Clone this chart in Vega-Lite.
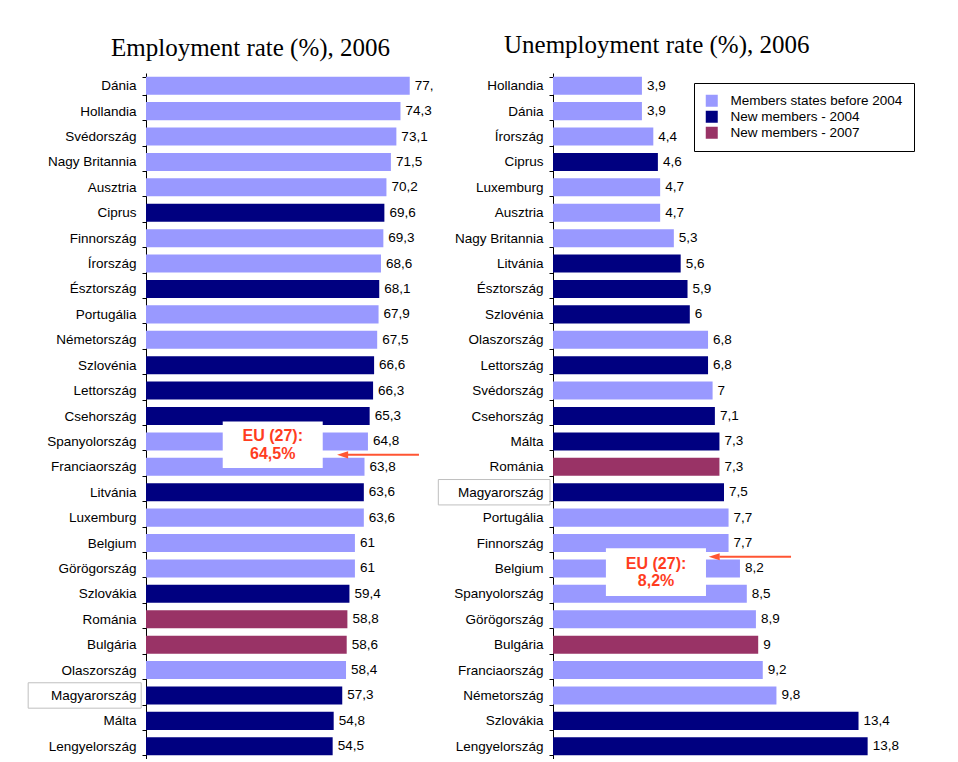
{
  "$schema": "https://vega.github.io/schema/vega-lite/v6.json",
  "background": "white",
  "padding": {"left": 27, "top": 33, "right": 0, "bottom": 0},
  "config": {"view": {"stroke": null}, "font": "Liberation Sans"},
  "spacing": 3,
  "resolve": {"scale": {"color": "independent", "x": "independent", "y": "independent"}, "legend": {"color": "independent"}},
  "datasets": {
    "emp": [
      {"country": "Dánia", "v": 77, "lab": "77,", "grp": "Members states before 2004"},
      {"country": "Hollandia", "v": 74.3, "lab": "74,3", "grp": "Members states before 2004"},
      {"country": "Svédország", "v": 73.1, "lab": "73,1", "grp": "Members states before 2004"},
      {"country": "Nagy Britannia", "v": 71.5, "lab": "71,5", "grp": "Members states before 2004"},
      {"country": "Ausztria", "v": 70.2, "lab": "70,2", "grp": "Members states before 2004"},
      {"country": "Ciprus", "v": 69.6, "lab": "69,6", "grp": "New members - 2004"},
      {"country": "Finnország", "v": 69.3, "lab": "69,3", "grp": "Members states before 2004"},
      {"country": "Írország", "v": 68.6, "lab": "68,6", "grp": "Members states before 2004"},
      {"country": "Észtország", "v": 68.1, "lab": "68,1", "grp": "New members - 2004"},
      {"country": "Portugália", "v": 67.9, "lab": "67,9", "grp": "Members states before 2004"},
      {"country": "Németország", "v": 67.5, "lab": "67,5", "grp": "Members states before 2004"},
      {"country": "Szlovénia", "v": 66.6, "lab": "66,6", "grp": "New members - 2004"},
      {"country": "Lettország", "v": 66.3, "lab": "66,3", "grp": "New members - 2004"},
      {"country": "Csehország", "v": 65.3, "lab": "65,3", "grp": "New members - 2004"},
      {"country": "Spanyolország", "v": 64.8, "lab": "64,8", "grp": "Members states before 2004"},
      {"country": "Franciaország", "v": 63.8, "lab": "63,8", "grp": "Members states before 2004"},
      {"country": "Litvánia", "v": 63.6, "lab": "63,6", "grp": "New members - 2004"},
      {"country": "Luxemburg", "v": 63.6, "lab": "63,6", "grp": "Members states before 2004"},
      {"country": "Belgium", "v": 61, "lab": "61", "grp": "Members states before 2004"},
      {"country": "Görögország", "v": 61, "lab": "61", "grp": "Members states before 2004"},
      {"country": "Szlovákia", "v": 59.4, "lab": "59,4", "grp": "New members - 2004"},
      {"country": "Románia", "v": 58.8, "lab": "58,8", "grp": "New members - 2007"},
      {"country": "Bulgária", "v": 58.6, "lab": "58,6", "grp": "New members - 2007"},
      {"country": "Olaszország", "v": 58.4, "lab": "58,4", "grp": "Members states before 2004"},
      {"country": "Magyarország", "v": 57.3, "lab": "57,3", "grp": "New members - 2004"},
      {"country": "Málta", "v": 54.8, "lab": "54,8", "grp": "New members - 2004"},
      {"country": "Lengyelország", "v": 54.5, "lab": "54,5", "grp": "New members - 2004"}
    ],
    "unemp": [
      {"country": "Hollandia", "v": 3.9, "lab": "3,9", "grp": "Members states before 2004"},
      {"country": "Dánia", "v": 3.9, "lab": "3,9", "grp": "Members states before 2004"},
      {"country": "Írország", "v": 4.4, "lab": "4,4", "grp": "Members states before 2004"},
      {"country": "Ciprus", "v": 4.6, "lab": "4,6", "grp": "New members - 2004"},
      {"country": "Luxemburg", "v": 4.7, "lab": "4,7", "grp": "Members states before 2004"},
      {"country": "Ausztria", "v": 4.7, "lab": "4,7", "grp": "Members states before 2004"},
      {"country": "Nagy Britannia", "v": 5.3, "lab": "5,3", "grp": "Members states before 2004"},
      {"country": "Litvánia", "v": 5.6, "lab": "5,6", "grp": "New members - 2004"},
      {"country": "Észtország", "v": 5.9, "lab": "5,9", "grp": "New members - 2004"},
      {"country": "Szlovénia", "v": 6, "lab": "6", "grp": "New members - 2004"},
      {"country": "Olaszország", "v": 6.8, "lab": "6,8", "grp": "Members states before 2004"},
      {"country": "Lettország", "v": 6.8, "lab": "6,8", "grp": "New members - 2004"},
      {"country": "Svédország", "v": 7, "lab": "7", "grp": "Members states before 2004"},
      {"country": "Csehország", "v": 7.1, "lab": "7,1", "grp": "New members - 2004"},
      {"country": "Málta", "v": 7.3, "lab": "7,3", "grp": "New members - 2004"},
      {"country": "Románia", "v": 7.3, "lab": "7,3", "grp": "New members - 2007"},
      {"country": "Magyarország", "v": 7.5, "lab": "7,5", "grp": "New members - 2004"},
      {"country": "Portugália", "v": 7.7, "lab": "7,7", "grp": "Members states before 2004"},
      {"country": "Finnország", "v": 7.7, "lab": "7,7", "grp": "Members states before 2004"},
      {"country": "Belgium", "v": 8.2, "lab": "8,2", "grp": "Members states before 2004"},
      {"country": "Spanyolország", "v": 8.5, "lab": "8,5", "grp": "Members states before 2004"},
      {"country": "Görögország", "v": 8.9, "lab": "8,9", "grp": "Members states before 2004"},
      {"country": "Bulgária", "v": 9, "lab": "9", "grp": "New members - 2007"},
      {"country": "Franciaország", "v": 9.2, "lab": "9,2", "grp": "Members states before 2004"},
      {"country": "Németország", "v": 9.8, "lab": "9,8", "grp": "Members states before 2004"},
      {"country": "Szlovákia", "v": 13.4, "lab": "13,4", "grp": "New members - 2004"},
      {"country": "Lengyelország", "v": 13.8, "lab": "13,8", "grp": "New members - 2004"}
    ]
  },
  "hconcat": [
    {
      "width": 274,
      "height": 686,
      "title": {"text": "Employment rate (%), 2006", "font": "Liberation Serif", "fontSize": 25, "fontWeight": "normal", "color": "black", "anchor": "start", "frame": "group", "dx": -35, "baseline": "bottom", "offset": -20},
      "resolve": {"scale": {"y": "independent"}},
      "layer": [
        {
          "data": {"name": "emp"},
          "layer": [
            {
              "mark": {"type": "bar"},
              "encoding": {
                "y": {"field": "country", "type": "nominal", "sort": null,
                      "scale": {"paddingInner": 0.29, "paddingOuter": 0.145},
                      "axis": {"title": null, "domainColor": "black", "domainWidth": 1, "tickBand": "extent", "tickColor": "black", "tickSize": 4, "labelFont": "Liberation Sans", "labelFontSize": 13.5, "labelColor": "black", "labelPadding": 6, "grid": false}},
                "x": {"field": "v", "type": "quantitative", "scale": {"domain": [0, 80], "nice": false}, "axis": null},
                "color": {"field": "grp", "type": "nominal", "scale": {"domain": ["Members states before 2004", "New members - 2004", "New members - 2007"], "range": ["#9999FF", "#000080", "#993366"]}, "legend": null}
              }
            },
            {
              "mark": {"type": "text", "align": "left", "baseline": "middle", "dx": 5, "font": "Liberation Sans", "fontSize": 13.5, "color": "black"},
              "encoding": {
                "y": {"field": "country", "type": "nominal", "sort": null},
                "x": {"field": "v", "type": "quantitative", "axis": null},
                "text": {"field": "lab"}
              }
            }
          ]
        },
        {
          "layer": [
            {
              "data": {"values": [{"x1": -34.4, "x2": -1.4, "y1": 24, "y2": 25}]},
              "mark": {"type": "rect", "filled": false, "color": "#BFBFBF", "strokeWidth": 1},
              "encoding": {
                "x": {"field": "x1", "type": "quantitative", "scale": {"domain": [0, 80], "nice": false}, "axis": null},
                "x2": {"field": "x2"},
                "y": {"field": "y1", "type": "quantitative", "scale": {"domain": [0, 27], "reverse": true, "nice": false, "zero": false}, "axis": null},
                "y2": {"field": "y2"}
              }
            },
            {
              "data": {"values": [{"x1": 22.4, "x2": 51.6, "y1": 13.72, "y2": 15.55}]},
              "mark": {"type": "rect", "color": "white"},
              "encoding": {
                "x": {"field": "x1", "type": "quantitative", "axis": null},
                "x2": {"field": "x2"},
                "y": {"field": "y1", "type": "quantitative", "axis": null},
                "y2": {"field": "y2"}
              }
            },
            {
              "data": {"values": [{"t": "EU (27):", "x1": 37, "y1": 14.47}, {"t": "64,5%", "x1": 37, "y1": 15.21}]},
              "mark": {"type": "text", "align": "center", "baseline": "alphabetic", "font": "Liberation Sans", "fontSize": 16, "fontWeight": "bold", "color": "#FF3D1F"},
              "encoding": {
                "x": {"field": "x1", "type": "quantitative", "axis": null},
                "y": {"field": "y1", "type": "quantitative", "axis": null},
                "text": {"field": "t"}
              }
            },
            {
              "data": {"values": [{"x1": 79.7, "x2": 58.5, "y1": 15.03}]},
              "mark": {"type": "rule", "color": "#FF5533", "strokeWidth": 2},
              "encoding": {
                "x": {"field": "x1", "type": "quantitative", "axis": null},
                "x2": {"field": "x2"},
                "y": {"field": "y1", "type": "quantitative", "axis": null}
              }
            },
            {
              "data": {"values": [{"x1": 57.4, "y1": 15.03}]},
              "mark": {"type": "point", "shape": "M -1 0 L 1 -0.65 L 1 0.65 Z", "filled": true, "size": 121, "color": "#FF5533", "opacity": 1},
              "encoding": {
                "x": {"field": "x1", "type": "quantitative", "axis": null},
                "y": {"field": "y1", "type": "quantitative", "axis": null}
              }
            }
          ]
        }
      ]
    },
    {
      "width": 342,
      "height": 686,
      "title": {"text": "Unemployment rate (%), 2006", "font": "Liberation Serif", "fontSize": 25, "fontWeight": "normal", "color": "black", "anchor": "start", "frame": "group", "dx": -49, "baseline": "bottom", "offset": -17},
      "resolve": {"scale": {"y": "independent"}},
      "layer": [
        {
          "data": {"name": "unemp"},
          "layer": [
            {
              "mark": {"type": "bar"},
              "encoding": {
                "y": {"field": "country", "type": "nominal", "sort": null,
                      "scale": {"paddingInner": 0.29, "paddingOuter": 0.145},
                      "axis": {"title": null, "domainColor": "black", "domainWidth": 1, "tickBand": "extent", "tickColor": "black", "tickSize": 4, "labelFont": "Liberation Sans", "labelFontSize": 13.5, "labelColor": "black", "labelPadding": 6, "grid": false}},
                "x": {"field": "v", "type": "quantitative", "scale": {"domain": [0, 15], "nice": false}, "axis": null},
                "color": {"field": "grp", "type": "nominal", "scale": {"domain": ["Members states before 2004", "New members - 2004", "New members - 2007"], "range": ["#9999FF", "#000080", "#993366"]},
                          "legend": {"orient": "none", "legendX": 141, "legendY": 10, "title": null, "strokeColor": "black", "fillColor": "white", "padding": 11, "symbolType": "square", "symbolSize": 144, "symbolStrokeWidth": 0, "symbolOpacity": 1, "labelFont": "Liberation Sans", "labelFontSize": 13.5, "labelColor": "black", "labelOffset": 12, "labelLimit": 400, "rowPadding": 1}}
              }
            },
            {
              "mark": {"type": "text", "align": "left", "baseline": "middle", "dx": 5, "font": "Liberation Sans", "fontSize": 13.5, "color": "black"},
              "encoding": {
                "y": {"field": "country", "type": "nominal", "sort": null},
                "x": {"field": "v", "type": "quantitative", "axis": null},
                "text": {"field": "lab"}
              }
            }
          ]
        },
        {
          "layer": [
            {
              "data": {"values": [{"x1": -5.03, "x2": -0.13, "y1": 16, "y2": 17}]},
              "mark": {"type": "rect", "filled": false, "color": "#BFBFBF", "strokeWidth": 1},
              "encoding": {
                "x": {"field": "x1", "type": "quantitative", "scale": {"domain": [0, 15], "nice": false}, "axis": null},
                "x2": {"field": "x2"},
                "y": {"field": "y1", "type": "quantitative", "scale": {"domain": [0, 27], "reverse": true, "nice": false, "zero": false}, "axis": null},
                "y2": {"field": "y2"}
              }
            },
            {
              "data": {"values": [{"x1": 2.32, "x2": 6.71, "y1": 18.71, "y2": 20.58}]},
              "mark": {"type": "rect", "color": "white"},
              "encoding": {
                "x": {"field": "x1", "type": "quantitative", "axis": null},
                "x2": {"field": "x2"},
                "y": {"field": "y1", "type": "quantitative", "axis": null},
                "y2": {"field": "y2"}
              }
            },
            {
              "data": {"values": [{"t": "EU (27):", "x1": 4.52, "y1": 19.51}, {"t": "8,2%", "x1": 4.52, "y1": 20.2}]},
              "mark": {"type": "text", "align": "center", "baseline": "alphabetic", "font": "Liberation Sans", "fontSize": 16, "fontWeight": "bold", "color": "#FF3D1F"},
              "encoding": {
                "x": {"field": "x1", "type": "quantitative", "axis": null},
                "y": {"field": "y1", "type": "quantitative", "axis": null},
                "text": {"field": "t"}
              }
            },
            {
              "data": {"values": [{"x1": 10.44, "x2": 7.3, "y1": 19.04}]},
              "mark": {"type": "rule", "color": "#FF5533", "strokeWidth": 2},
              "encoding": {
                "x": {"field": "x1", "type": "quantitative", "axis": null},
                "x2": {"field": "x2"},
                "y": {"field": "y1", "type": "quantitative", "axis": null}
              }
            },
            {
              "data": {"values": [{"x1": 7.07, "y1": 19.04}]},
              "mark": {"type": "point", "shape": "M -1 0 L 1 -0.65 L 1 0.65 Z", "filled": true, "size": 121, "color": "#FF5533", "opacity": 1},
              "encoding": {
                "x": {"field": "x1", "type": "quantitative", "axis": null},
                "y": {"field": "y1", "type": "quantitative", "axis": null}
              }
            }
          ]
        }
      ]
    }
  ]
}
